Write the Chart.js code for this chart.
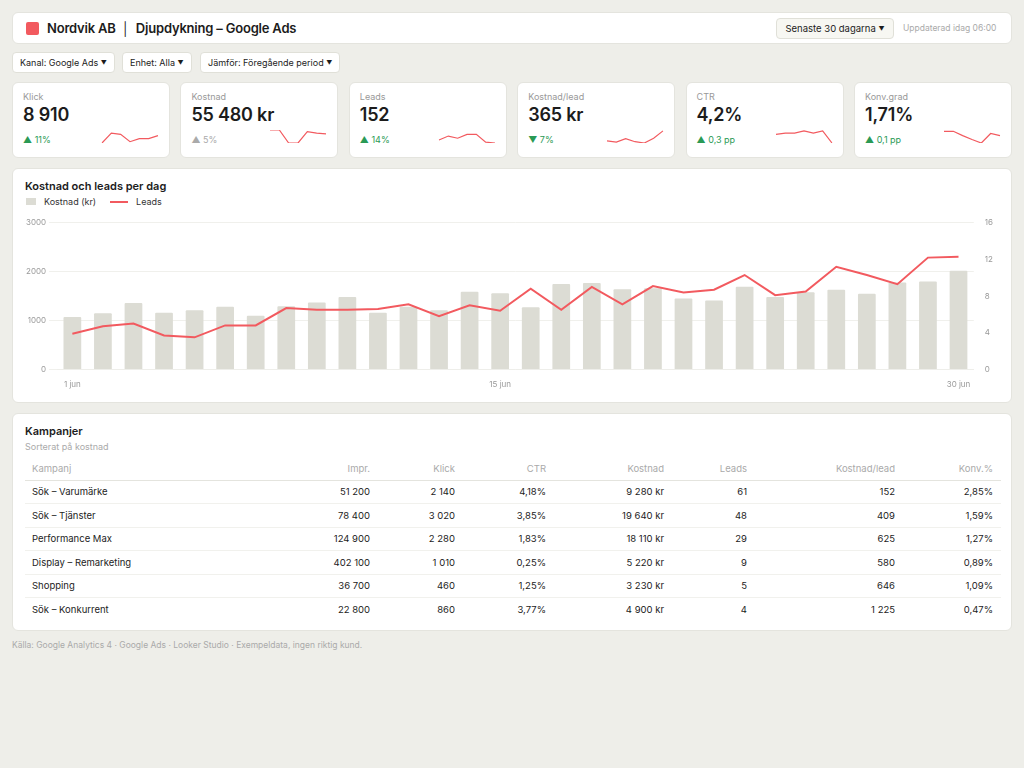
<!DOCTYPE html>
<html lang="sv">
<head>
<meta charset="utf-8">
<script src="https://cdn.jsdelivr.net/npm/chart.js@4"></script>
<style>
  * { box-sizing: border-box; margin: 0; padding: 0; }
  body { width: 1024px; height: 768px; background: #eeeee9; font-family: Inter, "Noto Sans", sans-serif; color: #1c1c1c; position: relative; }
  .card { position: absolute; background: #fff; border: 1px solid #e4e4de; border-radius: 6px; }
  .header { left: 12px; top: 12px; width: 1000px; height: 32px; }
  .logo { position: absolute; left: 13px; top: 9px; width: 13px; height: 13px; background: #f25a5f; border-radius: 2px; }
  .title { position: absolute; left: 34px; top: 7px; font-size: 13px; font-weight: 600; letter-spacing: -0.2px; }
  .period { position: absolute; left: 763px; top: 5px; height: 21px; width: 118px; text-align: center; line-height: 20px; border: 1px solid #e0e0d8; background: #f7f7f2; border-radius: 4px; font-size: 9.5px; }
  .upd { position: absolute; left: 890px; top: 10px; font-size: 8.5px; color: #aaa; }
  .pill { position: absolute; top: 52px; height: 21px; line-height: 20px; padding: 0 7px; background: #fff; border: 1px solid #e0e0d8; border-radius: 4px; font-size: 9px; }
  .ar { font-size: 6px; vertical-align: 1px; }
  .kpi { top: 82px; width: 158px; height: 76px; }
  .kpi .lab { position: absolute; left: 10px; top: 8px; font-size: 9px; color: #999; }
  .kpi .val { position: absolute; left: 10px; top: 21px; font-size: 18px; font-weight: 600; letter-spacing: -0.2px; }
  .kpi .chg { position: absolute; left: 10px; top: 51px; font-size: 9px; color: #2a9a55; }
  .kpi .chg.n { color: #aaa; }
  .kpi .sp { position: absolute; left: 88px; top: 46px; width: 58px; height: 15px; }
  .chartcard { left: 12px; top: 168px; width: 1000px; height: 235px; }
  .chartcard h2, .tcard h2 { position: absolute; left: 12px; top: 10px; font-size: 11px; font-weight: 600; }
  .legend { position: absolute; left: 13px; top: 27px; font-size: 9px; color: #333; display: flex; gap: 14px; }
  .legend span { display: inline-flex; align-items: center; gap: 8px; }
  .sw1 { width: 10px; height: 7px; background: #dcdcd4; display: inline-block; }
  .sw2 { width: 18px; height: 2px; background: #f25a5f; display: inline-block; }
  .cwrap { position: absolute; left: 10px; top: 46px; width: 980px; height: 176px; }
  .tcard { left: 12px; top: 413px; width: 1000px; height: 218px; }
  .sub { position: absolute; left: 12px; top: 27px; font-size: 9px; color: #aaa; }
  table { position: absolute; left: 12px; top: 44px; width: 976px; border-collapse: collapse; font-size: 9.5px; table-layout: fixed; }
  th { font-weight: 400; color: #aaa; text-align: right; height: 22px; border-bottom: 1px solid #e4e4de; }
  td { text-align: right; height: 23.5px; border-bottom: 1px solid #f1f1ed; }
  tr:last-child td { border-bottom: none; }
  th:first-child, td:first-child { text-align: left; padding-left: 7px; }
  td:last-child, th:last-child { padding-right: 8px; }
  .foot { position: absolute; left: 12px; top: 640px; font-size: 8.5px; color: #aaa; }
</style>
</head>
<body>
<div class="card header">
  <div class="logo"></div>
  <div class="title">Nordvik AB &nbsp;│&nbsp; Djupdykning – Google Ads</div>
  <div class="period">Senaste 30 dagarna <span class="ar">▼</span></div>
  <div class="upd">Uppdaterad idag 06:00</div>
</div>
<div class="pill" style="left:12px">Kanal: Google Ads <span class="ar">▼</span></div>
<div class="pill" style="left:122px">Enhet: Alla <span class="ar">▼</span></div>
<div class="pill" style="left:200px">Jämför: Föregående period <span class="ar">▼</span></div>
<div id="kpis"></div>

<div class="card chartcard">
  <h2>Kostnad och leads per dag</h2>
  <div class="legend"><span><i class="sw1"></i>Kostnad (kr)</span><span><i class="sw2"></i>Leads</span></div>
  <div class="cwrap"><canvas id="main"></canvas></div>
</div>

<div class="card tcard">
  <h2>Kampanjer</h2>
  <div class="sub">Sorterat på kostnad</div>
  <table id="tbl"></table>
</div>
<div class="foot">Källa: Google Analytics 4 · Google Ads · Looker Studio · Exempeldata, ingen riktig kund.</div>

<script>
// --- data ---
const days = Array.from({ length: 30 }, (_, i) => (i + 1) + ' jun');
const dayTicks = ['1 jun', '15 jun', '30 jun'];
const cost = [1070, 1150, 1360, 1160, 1210, 1280, 1100, 1290, 1370, 1480, 1160, 1280, 1210, 1590, 1560,
  1270, 1750, 1770, 1640, 1660, 1450, 1410, 1690, 1480, 1580, 1630, 1550, 1780, 1800, 2020];
const leads = [3.9, 4.7, 5.0, 3.7, 3.5, 4.8, 4.8, 6.7, 6.5, 6.5, 6.6, 7.1, 5.8, 7.0, 6.4,
  8.8, 6.5, 9.0, 7.1, 9.1, 8.4, 8.7, 10.3, 8.1, 8.5, 11.2, 10.3, 9.3, 12.2, 12.3];

const kpiLabels = ['Klick', 'Kostnad', 'Leads', 'Kostnad/lead', 'CTR', 'Konv.grad'];
const kpiValues = ['8 910', '55 480 kr', '152', '365 kr', '4,2%', '1,71%'];
const kpiChanges = ['▲ 11%', '▲ 5%', '▲ 14%', '▼ 7%', '▲ 0,3 pp', '▲ 0,1 pp'];
const kpiNeutral = [false, true, false, false, false, false];
const sparks = [
  [0, 23, 20, 3, 10, 10, 17],
  [30, 30, 0, 0, 26, 23, 21],
  [7, 16, 11, 20, 20, 2, 0],
  [5, 2, 10, 3, 0, 11, 28],
  [20, 23, 23, 28, 23, 28, 0],
  [27, 27, 17, 8, 0, 22, 17]
];

const tblHead = ['Kampanj', 'Impr.', 'Klick', 'CTR', 'Kostnad', 'Leads', 'Kostnad/lead', 'Konv.%'];
const colWidths = [239, 106, 85, 91, 118, 83, 148, 106];
const campaigns = ['Sök – Varumärke', 'Sök – Tjänster', 'Performance Max', 'Display – Remarketing', 'Shopping', 'Sök – Konkurrent'];
const impr = ['51 200', '78 400', '124 900', '402 100', '36 700', '22 800'];
const clicks = ['2 140', '3 020', '2 280', '1 010', '460', '860'];
const ctr = ['4,18%', '3,85%', '1,83%', '0,25%', '1,25%', '3,77%'];
const costs = ['9 280 kr', '19 640 kr', '18 110 kr', '5 220 kr', '3 230 kr', '4 900 kr'];
const campLeads = ['61', '48', '29', '9', '5', '4'];
const cpl = ['152', '409', '625', '580', '646', '1 225'];
const conv = ['2,85%', '1,59%', '1,27%', '0,89%', '1,09%', '0,47%'];

Chart.defaults.font.family = 'Inter, "Noto Sans", sans-serif';
const red = '#f25a5f';

// KPI cards with sparklines
const kpiBox = document.getElementById('kpis');
kpiLabels.forEach((lab, i) => {
  const el = document.createElement('div');
  el.className = 'card kpi';
  el.style.left = (12 + i * 168.4) + 'px';
  el.innerHTML = `<div class="lab">${lab}</div><div class="val">${kpiValues[i]}</div>
    <div class="chg${kpiNeutral[i] ? ' n' : ''}">${kpiChanges[i]}</div><div class="sp"><canvas></canvas></div>`;
  kpiBox.appendChild(el);
  new Chart(el.querySelector('canvas'), {
    type: 'line',
    data: { labels: sparks[i].map((_, j) => j), datasets: [{ data: sparks[i], borderColor: red, borderWidth: 1.2, pointRadius: 0, tension: 0 }] },
    options: {
      responsive: true, maintainAspectRatio: false, animation: false,
      plugins: { legend: { display: false }, tooltip: { enabled: false } },
      scales: { x: { display: false }, y: { display: false, min: 0, max: 30 } },
      layout: { padding: 1 }
    }
  });
});

// Main chart
new Chart(document.getElementById('main'), {
  data: {
    labels: days,
    datasets: [
      { type: 'line', label: 'Leads', data: leads, yAxisID: 'y1', borderColor: red, borderWidth: 2, pointRadius: 0, tension: 0, order: 0 },
      { type: 'bar', label: 'Kostnad (kr)', data: cost, yAxisID: 'y', backgroundColor: '#dcdcd4', categoryPercentage: 0.58, barPercentage: 1, borderRadius: 1, order: 1 }
    ]
  },
  options: {
    responsive: true, maintainAspectRatio: false, animation: false,
    layout: { padding: { right: 7 } },
    plugins: { legend: { display: false }, tooltip: { enabled: false } },
    scales: {
      x: {
        grid: { display: false }, border: { color: '#eeeeea' },
        ticks: { color: '#999', font: { size: 8 }, maxRotation: 0, autoSkip: false, padding: 2,
          callback: (v, i) => dayTicks.includes(days[i]) ? days[i] : '' }
      },
      y: {
        min: 0, max: 3000, ticks: { stepSize: 1000, color: '#999', font: { size: 8 }, callback: v => String(v) },
        grid: { color: '#f0f0ec' }, border: { display: false }
      },
      y1: {
        position: 'right', min: 0, max: 16, ticks: { stepSize: 4, color: '#999', font: { size: 8 } },
        grid: { display: false }, border: { display: false }
      }
    }
  }
});

// Table
const cols = [campaigns, impr, clicks, ctr, costs, campLeads, cpl, conv];
let html = '<colgroup>' + colWidths.map(w => `<col style="width:${w}px">`).join('') + '</colgroup>';
html += '<tr>' + tblHead.map(h => `<th>${h}</th>`).join('') + '</tr>';
campaigns.forEach((_, r) => {
  html += '<tr>' + cols.map(c => `<td>${c[r]}</td>`).join('') + '</tr>';
});
document.getElementById('tbl').innerHTML = html;
</script>
</body>
</html>
